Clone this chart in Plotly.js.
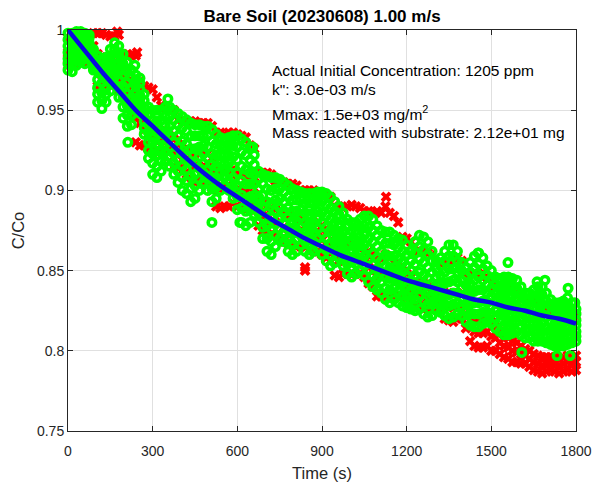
<!DOCTYPE html>
<html>
<head>
<meta charset="utf-8">
<script src="https://cdn.plot.ly/plotly-3.0.1.min.js"></script>
<style>html,body{margin:0;padding:0;background:#fff;}#chart{width:595px;height:484px;}</style>
</head>
<body>
<div id="chart"></div>
<script>
// Sampling times (s) of the read-off tracks
const timeS = [0,15,30,45,60,75,90,105,120,135,150,165,180,195,210,225,240,255,270,285,300,315,330,345,360,375,390,405,420,435,450,465,480,495,510,525,540,555,570,585,600,615,630,645,660,675,690,705,720,735,750,765,780,795,810,825,840,855,870,885,900,915,930,945,960,975,990,1005,1020,1035,1050,1065,1080,1095,1110,1125,1140,1155,1170,1185,1200,1215,1230,1245,1260,1275,1290,1305,1320,1335,1350,1365,1380,1395,1410,1425,1440,1455,1470,1485,1500,1515,1530,1545,1560,1575,1590,1605,1620,1635,1650,1665,1680,1695,1710,1725,1740,1755,1770,1785,1800];

// Green (circle) measurements, from the top of the cloud to its bottom
const green1 = [.998,.998,.999,.999,.998,.997,.988,.984,.982,.983,
.988,.992,.990,.985,.980,.975,.972,.970,.960,.952,
.950,.950,.950,.952,.952,.950,.948,.946,.944,.942,
.941,.941,.940,.940,.938,.935,.933,.932,.933,.934,
.934,.932,.930,.927,.922,.912,.910,.909,.908,.908,
.907,.905,.903,.901,.900,.899,.898,.898,.898,.899,
.899,.898,.896,.893,.890,.886,.882,.880,.880,.882,
.884,.884,.882,.878,.875,.874,.874,.872,.870,.869,
.866,.862,.868,.872,.871,.868,.862,.856,.858,.862,
.866,.866,.862,.855,.852,.855,.859,.861,.858,.853,
.850,.846,.845,.846,.846,.845,.844,.840,.836,.836,
.838,.840,.840,.836,.832,.830,.830,.831,.833,.830,.826];
const green2 = [.994,.994,.996,.996,.995,.995,.986,.979,.977,.978,
.984,.988,.985,.979,.974,.970,.969,.967,.956,.947,
.944,.943,.944,.946,.946,.944,.941,.939,.937,.934,
.934,.934,.934,.934,.931,.929,.928,.927,.928,.928,
.927,.924,.922,.919,.916,.907,.904,.901,.900,.901,
.901,.899,.896,.894,.894,.894,.892,.892,.892,.893,
.893,.891,.889,.887,.885,.881,.877,.875,.875,.877,
.878,.877,.875,.872,.869,.867,.867,.866,.864,.862,
.860,.856,.861,.865,.863,.860,.856,.851,.853,.856,
.859,.859,.856,.850,.847,.849,.852,.854,.851,.847,
.845,.841,.840,.840,.840,.840,.839,.835,.832,.832,
.833,.835,.835,.831,.828,.826,.826,.827,.828,.826,.823];
const green3 = [.990,.990,.992,.993,.991,.992,.983,.974,.972,.973,
.980,.983,.979,.972,.967,.964,.965,.963,.952,.941,
.937,.936,.937,.940,.940,.937,.934,.931,.929,.926,
.926,.927,.928,.927,.923,.922,.922,.922,.922,.921,
.919,.915,.913,.911,.910,.901,.897,.893,.892,.894,
.895,.893,.889,.887,.887,.888,.886,.885,.886,.887,
.886,.884,.882,.880,.879,.875,.871,.869,.869,.871,
.872,.870,.868,.865,.862,.860,.859,.859,.857,.855,
.853,.850,.854,.857,.855,.852,.849,.846,.847,.849,
.851,.851,.849,.844,.841,.842,.844,.846,.844,.841,
.839,.835,.834,.834,.834,.834,.833,.830,.827,.827,
.827,.829,.829,.826,.823,.821,.821,.822,.823,.822,.819];
const green4 = [.986,.986,.989,.990,.988,.990,.981,.969,.967,.969,
.976,.979,.974,.965,.960,.958,.961,.959,.948,.936,
.930,.929,.931,.935,.934,.930,.927,.923,.921,.918,
.918,.921,.923,.920,.916,.915,.917,.917,.917,.915,
.911,.906,.904,.904,.904,.896,.890,.886,.884,.887,
.889,.887,.883,.881,.881,.883,.880,.879,.880,.882,
.880,.877,.875,.874,.874,.870,.865,.863,.864,.866,
.866,.864,.861,.858,.856,.853,.852,.852,.850,.849,
.847,.844,.847,.849,.847,.845,.842,.841,.841,.842,
.843,.844,.843,.839,.835,.836,.837,.838,.838,.836,
.834,.830,.829,.828,.828,.828,.828,.825,.822,.822,
.822,.823,.823,.821,.818,.817,.817,.817,.819,.818,.816];
const green5 = [.982,.981,.985,.986,.985,.987,.979,.964,.961,.964,
.971,.975,.969,.958,.953,.952,.957,.955,.943,.930,
.923,.922,.924,.929,.927,.923,.919,.915,.913,.909,
.910,.914,.917,.913,.908,.908,.911,.912,.911,.908,
.903,.897,.895,.896,.897,.891,.883,.878,.876,.879,
.882,.880,.876,.874,.875,.877,.874,.873,.874,.876,
.873,.870,.867,.868,.869,.864,.859,.857,.859,.861,
.859,.857,.854,.851,.849,.846,.845,.845,.843,.842,
.840,.838,.839,.841,.839,.837,.835,.835,.835,.835,
.835,.836,.836,.833,.829,.829,.830,.830,.831,.830,
.828,.825,.823,.822,.822,.822,.823,.820,.817,.817,
.817,.817,.817,.815,.813,.812,.812,.812,.814,.813,.812];
const green6 = [.979,.978,.982,.983,.982,.985,.977,.960,.956,.960,
.967,.971,.964,.952,.947,.947,.954,.952,.939,.925,
.917,.915,.918,.924,.921,.917,.912,.908,.906,.901,
.903,.907,.911,.907,.901,.902,.906,.908,.906,.902,
.896,.889,.887,.888,.891,.886,.877,.870,.868,.872,
.876,.874,.869,.867,.869,.872,.868,.867,.868,.870,
.867,.863,.860,.862,.864,.859,.854,.852,.854,.856,
.853,.850,.847,.845,.843,.839,.838,.839,.837,.835,
.834,.832,.832,.834,.831,.829,.829,.830,.830,.829,
.828,.829,.830,.828,.824,.823,.823,.823,.824,.824,
.823,.820,.818,.816,.816,.817,.818,.815,.813,.813,
.812,.812,.812,.810,.809,.808,.808,.808,.809,.809,.809];
const green7 = [.975,.974,.978,.980,.979,.982,.975,.955,.951,.955,
.962,.966,.958,.945,.940,.941,.950,.948,.935,.920,
.910,.908,.912,.918,.915,.910,.905,.900,.898,.893,
.895,.900,.905,.900,.893,.895,.900,.903,.900,.895,
.888,.880,.878,.880,.885,.880,.870,.862,.860,.865,
.870,.868,.862,.860,.862,.866,.862,.860,.862,.864,
.860,.856,.853,.855,.858,.853,.848,.846,.848,.850,
.847,.843,.840,.838,.836,.832,.830,.832,.830,.828,
.827,.826,.825,.826,.823,.821,.822,.825,.824,.822,
.820,.821,.823,.822,.818,.816,.815,.815,.817,.818,
.817,.814,.812,.810,.810,.811,.812,.810,.808,.808,
.806,.806,.806,.805,.804,.803,.803,.803,.804,.805,.806];
const greenOutT = [212,237,354,510,609,655,1453,1559,1608,1662,1690,1733,1772,1779,1796];
const greenOutC = [.930,.978,.957,.880,.880,.927,.861,.855,.799,.843,.844,.797,.839,.797,.830];

// Red (x) measurements, from the top of the cloud to its bottom
const red1 = [.995,.995,.995,.990,.990,.997,.998,.998,.998,.997,
.996,.996,.997,.985,.985,.984,.984,.968,.965,.964,
.963,.958,.953,.952,.950,.950,.944,.944,.943,.943,
.943,.942,.942,.942,.940,.936,.936,.935,.936,.936,
.935,.934,.933,.928,.926,.911,.911,.911,.910,.906,
.906,.905,.904,.904,.903,.900,.900,.900,.900,.898,
.898,.897,.896,.890,.890,.889,.890,.891,.890,.889,
.887,.887,.886,.887,.886,.890,.886,.884,.880,.871,
.870,.868,.862,.862,.862,.861,.860,.855,.855,.855,
.856,.858,.858,.856,.848,.848,.848,.848,.848,.846,
.845,.840,.840,.840,.838,.838,.836,.832,.830,.830,
.830,.830,.828,.826,.825,.825,.825,.826,.826,.824,.822];
const red2 = [.986,.985,.987,.986,.985,.988,.990,.985,.982,.983,
.984,.980,.978,.972,.968,.966,.960,.955,.948,.944,
.940,.938,.937,.937,.934,.932,.929,.926,.924,.922,
.923,.924,.924,.923,.920,.915,.912,.912,.913,.913,
.910,.910,.909,.906,.905,.895,.892,.890,.889,.888,
.887,.886,.884,.884,.883,.882,.878,.880,.880,.880,
.878,.876,.874,.868,.866,.866,.866,.866,.866,.866,
.864,.862,.860,.858,.857,.860,.858,.855,.855,.850,
.848,.846,.843,.843,.842,.840,.840,.838,.838,.836,
.836,.836,.836,.835,.828,.823,.820,.820,.820,.820,
.818,.815,.812,.810,.808,.806,.805,.803,.801,.800,
.798,.797,.796,.796,.796,.796,.795,.796,.797,.796,.797];
const red3 = [.982,.982,.984,.983,.983,.984,.984,.975,.972,.974,
.975,.973,.970,.965,.962,.958,.945,.942,.938,.935,
.933,.932,.931,.931,.926,.924,.922,.919,.917,.914,
.914,.915,.915,.914,.910,.903,.901,.901,.902,.903,
.900,.900,.899,.897,.898,.887,.884,.882,.881,.880,
.879,.877,.876,.875,.875,.874,.865,.871,.871,.871,
.869,.867,.865,.858,.856,.857,.857,.857,.857,.857,
.855,.852,.850,.846,.846,.847,.847,.845,.845,.842,
.841,.838,.836,.836,.834,.833,.833,.833,.832,.828,
.828,.827,.828,.828,.821,.815,.812,.811,.811,.812,
.809,.808,.805,.803,.802,.800,.799,.798,.797,.795,
.793,.792,.791,.792,.792,.792,.791,.792,.793,.792,.793];
const red4 = [.978,.978,.980,.980,.980,.980,.978,.965,.962,.965,
.966,.966,.962,.958,.955,.950,.930,.928,.928,.926,
.925,.925,.924,.925,.918,.915,.914,.912,.910,.905,
.905,.906,.906,.905,.900,.890,.889,.890,.890,.892,
.890,.890,.888,.888,.890,.878,.875,.873,.872,.872,
.870,.868,.867,.866,.866,.865,.852,.862,.862,.862,
.860,.858,.856,.847,.846,.848,.848,.848,.848,.848,
.846,.842,.840,.834,.834,.834,.835,.835,.834,.834,
.833,.830,.828,.828,.826,.826,.826,.827,.826,.820,
.819,.818,.820,.820,.814,.806,.803,.802,.802,.803,
.800,.800,.798,.796,.795,.793,.793,.792,.792,.790,
.788,.787,.786,.787,.788,.787,.786,.787,.788,.787,.788];
const redOutT = [174,245,840,1127];
const redOutC = [.999,.986,.850,.896];

// Fitted curve
const fitT = [0,60,120,180,240,300,360,420,480,540,600,660,720,780,840,900,960,1020,1080,1140,1200,1260,1320,1380,1440,1500,1560,1620,1680,1740,1800];
const fitC = [1.000,.987,.974,.962,.950,.940,.930,.920,.911,.903,.896,.889,.882,.876,.870,.865,.860,.856,.852,.848,.844,.841,.838,.835,.832,.830,.827,.825,.822,.820,.817];

const xTicks = [0,300,600,900,1200,1500,1800];
const yTicks = [0.75,0.8,0.85,0.9,0.95,1];
const yTickText = ['0.75','0.8','0.85','0.9','0.95','1'];

const titleText = 'Bare Soil (20230608) 1.00 m/s';
const infoLines = ['Actual Initial Concentration: 1205 ppm','k": 3.0e-03 m/s','Mmax: 1.5e+03 mg/m<sup>2</sup>','Mass reacted with substrate: 2.12e+01 mg'];
const infoY = [0.975,0.9626,0.9483,0.9358];

const FONT = '"Liberation Sans", Arial, Helvetica, sans-serif';

const redTracks = [red1, red2, red3, red4];
const greenTracks = [green1, green2, green3, green4, green5, green6, green7];
const redX = [].concat(...redTracks.map(() => timeS), redOutT);
const redY = [].concat(...redTracks, redOutC);
const greenX = [].concat(...greenTracks.map(() => timeS), greenOutT);
const greenY = [].concat(...greenTracks, greenOutC);

const traces = [
  {type:'scatter', mode:'markers', x:redX, y:redY, cliponaxis:false,
   marker:{symbol:'x', size:9.5, color:'#ff0000', line:{width:0}}, hoverinfo:'skip'},
  {type:'scatter', mode:'markers', x:greenX, y:greenY, cliponaxis:false,
   marker:{symbol:'circle-open', size:7.5, color:'#00ff00', line:{width:3.5, color:'#00ff00'}}, hoverinfo:'skip'},
  {type:'scatter', mode:'lines', x:fitT, y:fitC, line:{color:'#0a0ae0', width:4.5, shape:'spline'}, hoverinfo:'skip'}
];

const axisCommon = {
  showline:true, linecolor:'#262626', linewidth:1, mirror:'ticks',
  ticks:'inside', ticklen:5, tickwidth:1, tickcolor:'#262626',
  showgrid:true, gridcolor:'#e0e0e0', gridwidth:1, zeroline:false,
  tickfont:{family:FONT, size:14, color:'#262626'}, automargin:false
};

const layout = {
  width:595, height:484,
  margin:{l:68, r:19, t:30, b:53, pad:0},
  paper_bgcolor:'#ffffff', plot_bgcolor:'#ffffff',
  showlegend:false,
  font:{family:FONT, color:'#262626'},
  title:{text:'<b>'+titleText+'</b>', font:{family:FONT, size:17, color:'#000000'},
         x:0.5, xref:'paper', xanchor:'center', y:1-16/484, yref:'container', yanchor:'middle'},
  xaxis:Object.assign({}, axisCommon, {range:[0,1800], tickvals:xTicks, ticktext:xTicks.map(String),
         ticklabelstandoff:7,
         title:{text:'Time (s)', font:{family:FONT, size:16.5, color:'#262626'}, standoff:9}}),
  yaxis:Object.assign({}, axisCommon, {range:[0.75,1], tickvals:yTicks, ticktext:yTickText,
         title:{text:'C/Co', font:{family:FONT, size:16.5, color:'#262626'}, standoff:8}}),
  annotations: infoLines.map((t,i)=>({text:t, x:717, y:infoY[i], xref:'x', yref:'y',
         xanchor:'left', yanchor:'middle', showarrow:false, align:'left',
         font:{family:FONT, size:15.5, color:'#000000'}}))
};

Plotly.newPlot('chart', traces, layout, {displayModeBar:false, staticPlot:true});
</script>
</body>
</html>
